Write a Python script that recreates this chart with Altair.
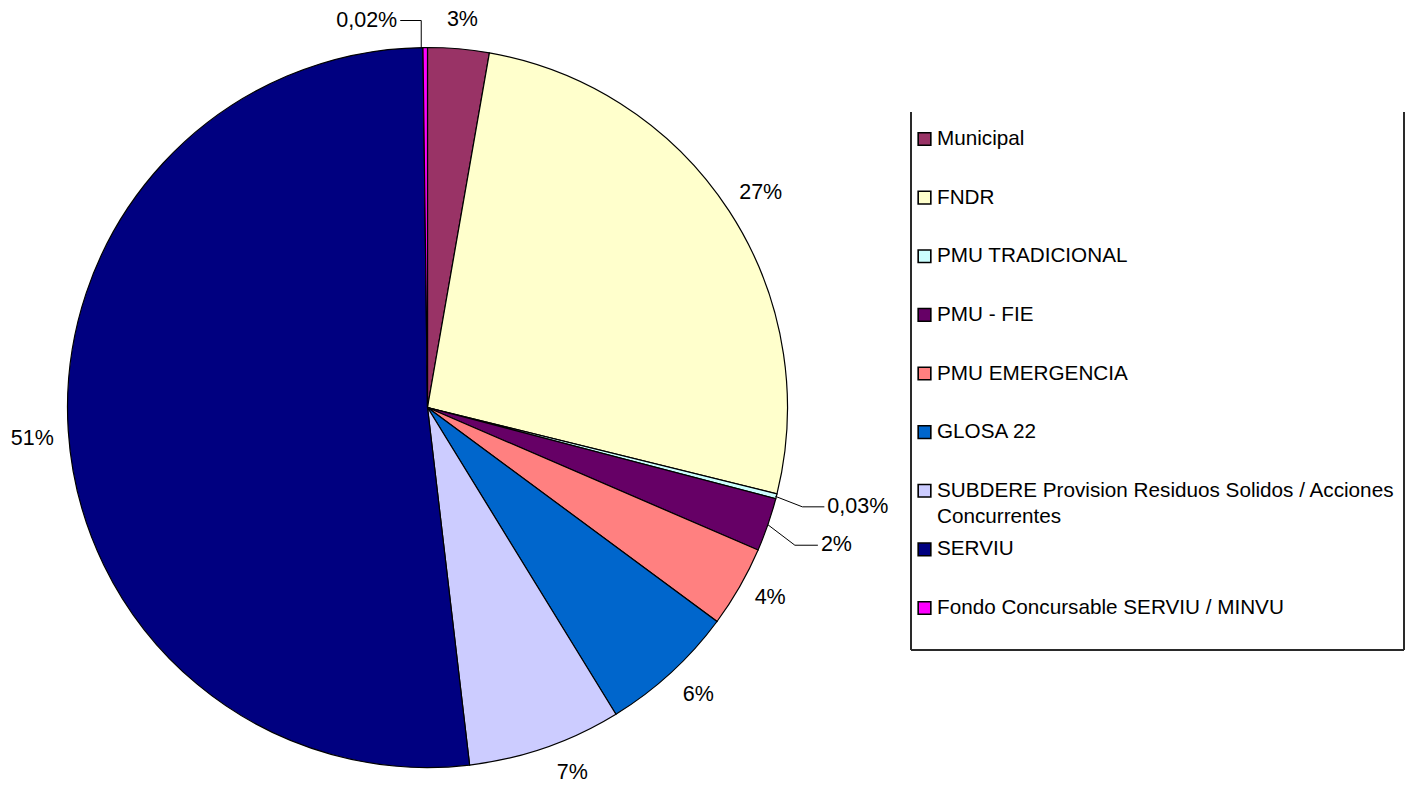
import altair as alt
import pandas as pd

# ---- data ----
categories = [
    "Municipal",
    "FNDR",
    "PMU TRADICIONAL",
    "PMU - FIE",
    "PMU EMERGENCIA",
    "GLOSA 22",
    "SUBDERE Provision Residuos Solidos / Acciones Concurrentes",
    "SERVIU",
    "Fondo Concursable SERVIU / MINVU",
]
shares = [2.75, 26.1, 0.22, 2.4, 3.65, 6.1, 6.9, 51.65, 0.2]
pct_labels = ["3%", "27%", "0,03%", "2%", "4%", "6%", "7%", "51%", "0,02%"]
legend_labels = [
    "Municipal",
    "FNDR",
    "PMU TRADICIONAL",
    "PMU - FIE",
    "PMU EMERGENCIA",
    "GLOSA 22",
    "SUBDERE Provision Residuos Solidos / Acciones\nConcurrentes",
    "SERVIU",
    "Fondo Concursable SERVIU / MINVU",
]
colors = ["#993366", "#FFFFCC", "#CCFFFF", "#660066", "#FF8080",
          "#0066CC", "#CCCCFF", "#000080", "#FF00FF"]

df = pd.DataFrame({
    "idx": list(range(len(categories))),
    "cat": categories,
    "share": shares,
    "pct": pct_labels,
    "legend": legend_labels,
})

FONT = "Liberation Sans, Arial, sans-serif"
W, H = 1400, 772
CX, CY, R = 419.5, 399.5, 360
RL = 393  # label radius

base = alt.Chart(df)

pie = base.mark_arc(outerRadius=R, stroke="black", strokeWidth=1.2).encode(
    theta=alt.Theta("share:Q", stack=True),
    order=alt.Order("idx:Q", sort="ascending"),
    color=alt.Color("cat:N", scale=alt.Scale(domain=categories, range=colors), legend=None),
    x=alt.value(CX),
    y=alt.value(CY),
)

geo = base.transform_joinaggregate(total="sum(share)").transform_window(
    cum="sum(share)", sort=[alt.SortField("idx", order="ascending")], frame=[None, 0]
).transform_calculate(
    mid="2*PI*(datum.cum - datum.share/2)/datum.total",
    ex=f"{CX} + {R}*sin(2*PI*(datum.cum - datum.share/2)/datum.total)",
    ey=f"{CY} - {R}*cos(2*PI*(datum.cum - datum.share/2)/datum.total)",
)

layers = [pie]

# plain labels (with small nudges like the spreadsheet placement)
nudges = {
    "Municipal": (1, 4),
    "FNDR": (4, 0),
    "PMU EMERGENCIA": (2, -5),
    "GLOSA 22": (5, -2),
    "SUBDERE Provision Residuos Solidos / Acciones Concurrentes": (16, -6),
    "SERVIU": (-3, 6),
}
for cat, (ndx, ndy) in nudges.items():
    layers.append(
        geo.transform_filter(alt.datum.cat == cat).transform_calculate(
            lx=f"{CX} + {RL}*sin(datum.mid)",
            ly=f"{CY} - {RL}*cos(datum.mid)",
        ).mark_text(font=FONT, fontSize=21.5, color="black", align="center",
                    baseline="middle", dx=ndx, dy=ndy).encode(
            x=alt.X("lx:Q", scale=None, axis=None),
            y=alt.Y("ly:Q", scale=None, axis=None),
            text="pct:N",
        )
    )

# labels with leader lines: (start x shift, knee dx, knee dy, tail length)
leaders = {
    "PMU TRADICIONAL": (-1, 27, 10.5, 22),
    "PMU - FIE": (0, 27, 20.5, 23),
    "Fondo Concursable SERVIU / MINVU": (-4, 0, -27, -21),
}
for cat, (sdx, kdx, kdy, tail) in leaders.items():
    g = geo.transform_filter(alt.datum.cat == cat).transform_calculate(
        sx=f"datum.ex + ({sdx})",
        sy="datum.ey",
        kx=f"datum.ex + ({sdx}) + ({kdx})",
        ky=f"datum.ey + ({kdy})",
        tx=f"datum.ex + ({sdx}) + ({kdx}) + ({tail})",
    )
    seg1 = g.mark_rule(color="black", strokeWidth=1).encode(
        x=alt.X("sx:Q", scale=None, axis=None),
        y=alt.Y("sy:Q", scale=None, axis=None),
        x2="kx:Q",
        y2="ky:Q",
    )
    seg2 = g.mark_rule(color="black", strokeWidth=1).encode(
        x=alt.X("kx:Q", scale=None, axis=None),
        y=alt.Y("ky:Q", scale=None, axis=None),
        x2="tx:Q",
        y2="ky:Q",
    )
    txt = g.mark_text(font=FONT, fontSize=21.5, color="black",
                      align="left" if tail > 0 else "right",
                      baseline="middle", dx=3 if tail > 0 else -3).encode(
        x=alt.X("tx:Q", scale=None, axis=None),
        y=alt.Y("ky:Q", scale=None, axis=None),
        text="pct:N",
    )
    layers += [seg1, seg2, txt]

# legend drawn as marks
leg_y = alt.Y("cat:N", scale=alt.Scale(type="point", domain=categories, range=[131, 600], padding=0),
              axis=None)
leg_sym = base.mark_square(size=160, filled=True, opacity=1, stroke="black", strokeWidth=1.6).encode(
    x=alt.value(916.5),
    y=leg_y,
    color=alt.Color("cat:N", scale=alt.Scale(domain=categories, range=colors), legend=None),
)
leg_txt = base.mark_text(font=FONT, fontSize=20.7, color="black", align="left", baseline="top",
                         dy=-10, lineBreak="\n", lineHeight=26).encode(
    x=alt.value(929),
    y=leg_y,
    text="legend:N",
)
box_col = "#2a2a2a"
box_l = base.mark_rule(color=box_col, strokeWidth=1).encode(
    x=alt.value(903), y=alt.value(104), y2=alt.value(642))
box_r = base.mark_rule(color=box_col, strokeWidth=1).encode(
    x=alt.value(1396), y=alt.value(104), y2=alt.value(642))
box_b = base.mark_rule(color=box_col, strokeWidth=1).encode(
    x=alt.value(903), x2=alt.value(1396), y=alt.value(642))

layers += [box_l, box_r, box_b, leg_sym, leg_txt]

chart = alt.layer(*layers).resolve_scale(y="independent", x="independent").properties(
    width=W, height=H, padding=0, background="white"
).configure_view(stroke=None)

chart.save("out.html", embed_options={"renderer": "svg", "actions": False})
